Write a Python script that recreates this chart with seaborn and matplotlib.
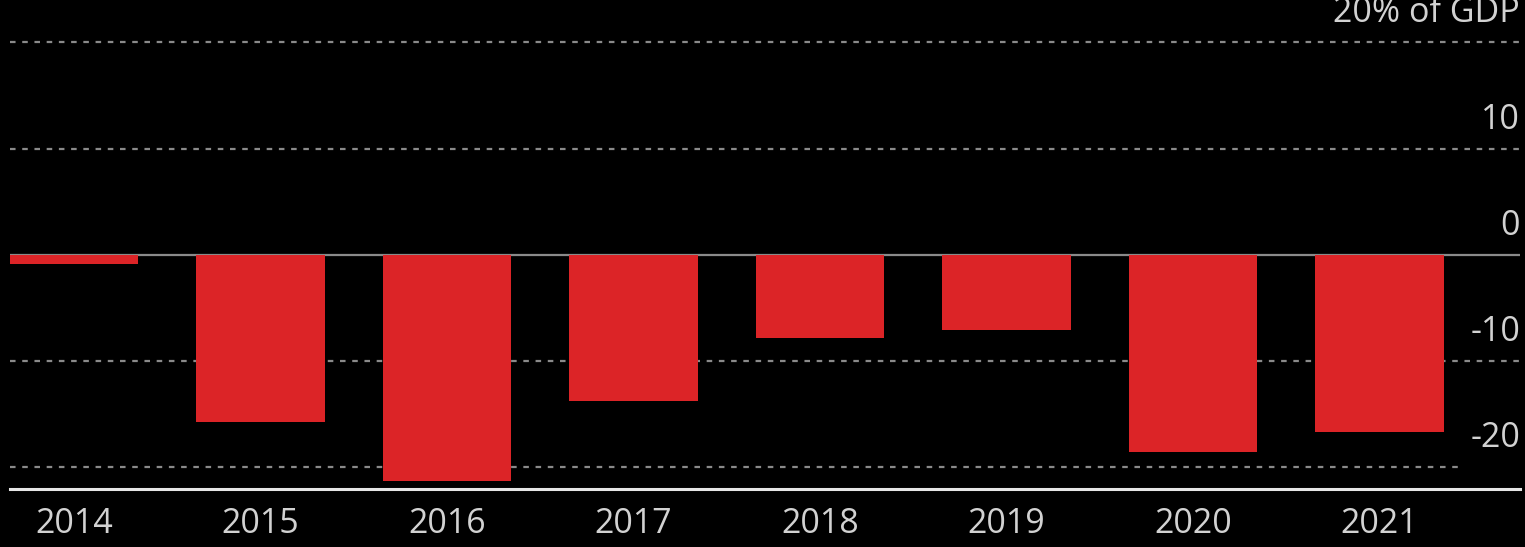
import matplotlib
matplotlib.use("Agg")
import matplotlib.pyplot as plt
import matplotlib.transforms as mtransforms
import seaborn as sns
import pandas as pd

years = ["2014", "2015", "2016", "2017", "2018", "2019", "2020", "2021"]
balance = [-0.9, -15.8, -21.3, -13.8, -7.9, -7.1, -18.6, -16.7]
ytick_values = [20, 10, 0, -10, -20]
ytick_labels = ["20% of GDP", "10", "0", "-10", "-20"]

BG = "#000000"
BAR = "#dc2427"
TXT = "#d2d2d2"
GRID = "#8a8a8a"

sns.set_theme(style="dark")
plt.rcParams["font.family"] = ["Open Sans", "DejaVu Sans"]

fig = plt.figure(figsize=(15.25, 5.47), dpi=100, facecolor=BG)
ax = fig.add_axes([10 / 1525, 58 / 547, 1510 / 1525, 489 / 547])
ax.set_facecolor(BG)

df = pd.DataFrame({"year": years, "value": balance})
sns.barplot(data=df, x="year", y="value", order=years, color=BAR,
            saturation=1, width=0.69, ax=ax, zorder=3,
            edgecolor="none", linewidth=0)

ax.set_xlim(-0.343, 7.753)
ax.set_ylim(-22.1, 24.0)

for s in ["left", "right", "top"]:
    ax.spines[s].set_visible(False)
ax.spines["bottom"].set_color("#e6e6e6")
ax.spines["bottom"].set_linewidth(2.2)
ax.spines["bottom"].set_zorder(4)

ax.grid(False)
ax.set_yticks([])
ax.set_xlabel("")
ax.set_ylabel("")
ax.tick_params(axis="x", length=0, pad=13, labelsize=24.5, labelcolor=TXT)

trans = mtransforms.blended_transform_factory(ax.transAxes, ax.transData)
offset = mtransforms.offset_copy(trans, fig=fig, x=0, y=20, units="dots")
for v, lab in zip(ytick_values, ytick_labels):
    if v == 0:
        ax.axhline(v, color=GRID, lw=1.6, zorder=2)
    else:
        xmax = 0.959 if v == min(ytick_values) else 1.0
        ax.axhline(v, xmin=0, xmax=xmax, color=GRID, lw=1.6,
                   ls=(0, (2.5, 3)), zorder=1)
    ax.text(1.0, v, lab, transform=offset, ha="right", va="baseline",
            fontsize=24.5, color=TXT)

fig.savefig("out.png", dpi=100, facecolor=BG)
